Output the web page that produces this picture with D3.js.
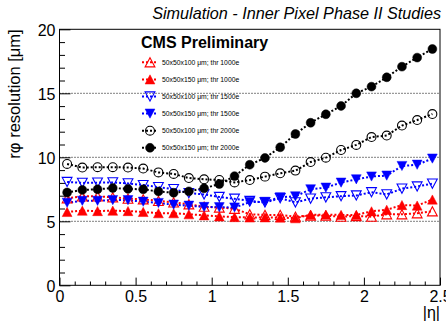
<!DOCTYPE html>
<html>
<head>
<meta charset="utf-8">
<script src="https://cdn.jsdelivr.net/npm/d3@7"></script>
<style>
  html, body { margin: 0; padding: 0; background: #fff; }
  svg { display: block; }
  text { font-family: "Liberation Sans", Arial, Helvetica, sans-serif; }
</style>
</head>
<body>
<svg id="chart" width="446" height="321"></svg>
<script>
// |eta| bin centres
const etaBins = [0.05, 0.15, 0.25, 0.35, 0.45, 0.55, 0.65, 0.75, 0.85, 0.95,
                 1.05, 1.15, 1.25, 1.35, 1.45, 1.55, 1.65, 1.75, 1.85, 1.95,
                 2.05, 2.15, 2.25, 2.35, 2.45];

// r-phi resolution [um] per configuration
const res100_1000 = [6.80, 6.95, 6.95, 6.88, 6.77, 6.72, 6.59, 6.48, 6.33, 6.14,
                     6.08, 5.98, 5.55, 5.50, 5.50, 5.36, 5.45, 5.44, 5.36, 5.41,
                     5.36, 5.55, 5.55, 5.63, 5.78];
const res150_1000 = [5.73, 5.83, 5.80, 5.83, 5.80, 5.73, 5.63, 5.63, 5.55, 5.47,
                     5.38, 5.33, 5.30, 5.31, 5.29, 5.24, 5.52, 5.52, 5.50, 5.50,
                     5.78, 5.90, 6.27, 6.23, 6.70];
const res100_1500 = [8.07, 8.00, 8.02, 8.04, 7.96, 7.83, 7.67, 7.52, 7.20, 7.10,
                     6.90, 6.76, 6.59, 6.47, 6.80, 6.48, 6.77, 6.87, 6.96, 7.02,
                     7.27, 7.10, 7.55, 7.72, 7.94];
const res150_1500 = [6.45, 6.60, 6.60, 6.66, 6.65, 6.53, 6.43, 6.30, 6.22, 6.12,
                     6.10, 6.08, 6.50, 6.52, 6.88, 6.95, 7.50, 7.63, 8.02, 8.28,
                     8.50, 8.57, 9.32, 9.42, 9.90];
const res100_2000 = [9.48, 9.20, 9.23, 9.23, 9.20, 9.12, 8.82, 8.70, 8.38, 8.28,
                     8.23, 8.04, 8.22, 8.49, 8.75, 8.96, 9.63, 9.97, 10.57, 10.97,
                     11.58, 11.70, 12.48, 12.91, 13.38];
const res150_2000 = [7.25, 7.45, 7.50, 7.60, 7.53, 7.50, 7.33, 7.23, 7.34, 7.58,
                     7.91, 8.53, 9.42, 9.95, 10.78, 11.82, 12.70, 13.36, 14.01, 15.00,
                     15.52, 16.25, 17.08, 17.79, 18.46];

const legendLabels = [
  "50x50x100 \u03bcm; thr 1000e",
  "50x50x150 \u03bcm; thr 1000e",
  "50x50x100 \u03bcm; thr 1500e",
  "50x50x150 \u03bcm; thr 1500e",
  "50x50x100 \u03bcm; thr 2000e",
  "50x50x150 \u03bcm; thr 2000e"
];

const xTicks = [0, 0.5, 1, 1.5, 2, 2.5];
const xMinorTicks = [0.1, 0.2, 0.3, 0.4, 0.6, 0.7, 0.8, 0.9, 1.1, 1.2, 1.3, 1.4,
                     1.6, 1.7, 1.8, 1.9, 2.1, 2.2, 2.3, 2.4];
const yTicks = [0, 5, 10, 15, 20];
const yMinorTicks = [1, 2, 3, 4, 6, 7, 8, 9, 11, 12, 13, 14, 16, 17, 18, 19];
const gridValues = [5, 10, 15];

const titleText = "Simulation - Inner Pixel Phase II Studies";
const headerText = "CMS Preliminary";
const xTitle = "|\u03b7|";
const yTitle = "r\u03c6 resolution [\u03bcm]";

// ---- drawing ----
const svg = d3.select("#chart");
const L = 59.5, R = 440, T = 29.3, B = 285.3;

const x = d3.scaleLinear().domain([0, 2.5]).range([L, R]);
const y = d3.scaleLinear().domain([0, 20]).range([B, T]);

const series = [
  { values: res100_1000, color: "#ff0000", shape: "triUp",   filled: false },
  { values: res150_1000, color: "#ff0000", shape: "triUp",   filled: true  },
  { values: res100_1500, color: "#0000ff", shape: "triDown", filled: false },
  { values: res150_1500, color: "#0000ff", shape: "triDown", filled: true  },
  { values: res100_2000, color: "#000000", shape: "circle",  filled: false },
  { values: res150_2000, color: "#000000", shape: "circle",  filled: true  }
];

function markerPath(shape) {
  if (shape === "circle") return d3.symbol(d3.symbolCircle, 62)();
  const h = 4.6, w = 4.9;
  if (shape === "triUp") return `M0,${-h}L${w},${h}L${-w},${h}Z`;
  return `M0,${h}L${w},${-h}L${-w},${-h}Z`;
}

// horizontal dotted grid lines
svg.append("g").selectAll("line").data(gridValues).join("line")
  .attr("x1", L).attr("x2", R)
  .attr("y1", d => y(d)).attr("y2", d => y(d))
  .attr("stroke", "#000").attr("stroke-width", 1)
  .attr("stroke-dasharray", "1,2");

// frame
svg.append("rect")
  .attr("x", L).attr("y", T).attr("width", R - L).attr("height", B - T)
  .attr("fill", "none").attr("stroke", "#000").attr("stroke-width", 1);

// axes
const axisFont = "16px";
const yAxis = svg.append("g").attr("transform", `translate(${L},0)`)
  .call(d3.axisLeft(y).tickValues(yTicks).tickSize(-11).tickPadding(4)
        .tickFormat(d3.format("d")));
svg.append("g").attr("transform", `translate(${L},0)`)
  .call(d3.axisLeft(y).tickValues(yMinorTicks).tickSize(-5.5).tickFormat(""));
const xAxis = svg.append("g").attr("transform", `translate(0,${B})`)
  .call(d3.axisBottom(x).tickValues(xTicks).tickSize(-7.7).tickPadding(5)
        .tickFormat(d => d3.format("")(d)));
svg.append("g").attr("transform", `translate(0,${B})`)
  .call(d3.axisBottom(x).tickValues(xMinorTicks).tickSize(-3.8).tickFormat(""));

svg.selectAll(".domain").remove();
svg.selectAll(".tick line").attr("stroke", "#000").attr("stroke-width", 1);
svg.selectAll(".tick text")
  .style("font-family", "'Liberation Sans', Arial, sans-serif")
  .style("font-size", axisFont).attr("fill", "#000");
yAxis.selectAll(".tick text").attr("dy", "0.36em");

// data lines (dotted) and markers
const line = d3.line().x((d, i) => x(etaBins[i])).y(d => y(d));
series.forEach(s => {
  svg.append("path").datum(s.values)
    .attr("d", line)
    .attr("fill", "none")
    .attr("stroke", s.color).attr("stroke-width", 2)
    .attr("stroke-dasharray", "2,2");
});
series.forEach(s => {
  svg.append("g").selectAll("path").data(s.values).join("path")
    .attr("transform", (d, i) => `translate(${x(etaBins[i])},${y(d)})`)
    .attr("d", markerPath(s.shape))
    .attr("fill", s.filled ? s.color : "none")
    .attr("stroke", s.color).attr("stroke-width", s.filled ? 0.5 : 1.1);
});

// title
svg.append("text")
  .attr("x", 441).attr("y", 19)
  .attr("text-anchor", "end")
  .style("font-size", "16.2px").style("font-style", "italic")
  .text(titleText);

// axis titles
svg.append("text")
  .attr("x", 440).attr("y", 318)
  .attr("text-anchor", "end")
  .style("font-size", "16px")
  .text(xTitle);
svg.append("text")
  .attr("transform", `translate(20,${T}) rotate(-90)`)
  .attr("text-anchor", "end")
  .style("font-size", "16.5px")
  .text(yTitle);

// legend
svg.append("text")
  .attr("x", 141).attr("y", 48)
  .style("font-size", "16px").style("font-weight", "bold")
  .text(headerText);

const legendY0 = 62.3, legendDy = 17.1;
const leg = svg.append("g").selectAll("g").data(series).join("g")
  .attr("transform", (d, i) => `translate(150,${legendY0 + i * legendDy})`);
leg.append("line")
  .attr("x1", -8).attr("x2", 8).attr("y1", 0).attr("y2", 0)
  .attr("stroke", d => d.color).attr("stroke-width", 2)
  .attr("stroke-dasharray", "2,2");
leg.append("path")
  .attr("d", d => markerPath(d.shape))
  .attr("fill", d => d.filled ? d.color : "none")
  .attr("stroke", d => d.color)
  .attr("stroke-width", d => d.filled ? 0.5 : 1.1);
leg.append("text")
  .attr("x", 12).attr("y", 2.3)
  .style("font-size", "6.8px")
  .text((d, i) => legendLabels[i]);
</script>
</body>
</html>
